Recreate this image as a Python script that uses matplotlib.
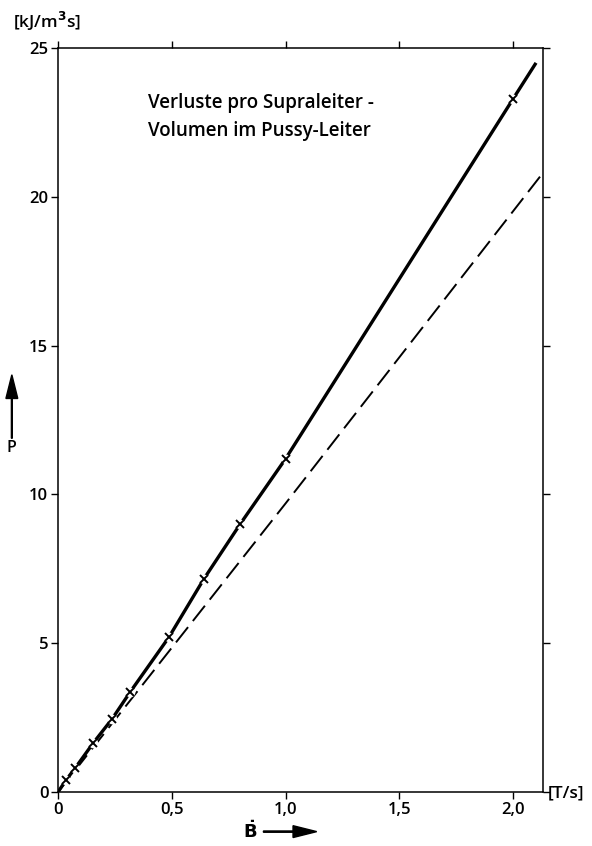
import matplotlib
matplotlib.use("Agg")
import matplotlib.pyplot as plt

# measured points (B-dot in T/s, P in kJ/m^3 s)
b_meas = [0.035, 0.075, 0.155, 0.237, 0.316, 0.487, 0.64, 0.80, 1.0, 2.0]
p_meas = [0.4, 0.8, 1.65, 2.45, 3.35, 5.2, 7.15, 9.0, 11.2, 23.3]

# solid curve through the measurements
b_solid = [0.0] + b_meas + [2.10]
p_solid = [0.0] + p_meas + [24.5]

# dashed straight line
b_dash = [0.0, 1.0, 2.13]
p_dash = [0.0, 9.7, 20.8]

x_ticks = [0, 0.5, 1.0, 1.5, 2.0]
x_labels = ["0", "0,5", "1,0", "1,5", "2,0"]
y_ticks = [0, 5, 10, 15, 20, 25]

plt.rcParams['font.family'] = ['Open Sans', 'DejaVu Sans']
plt.rcParams['font.weight'] = 'semibold'

fig = plt.figure(figsize=(5.92, 8.46), dpi=100)
ax = fig.add_axes([0.098, 0.0638, 0.819, 0.8795])

ax.plot(b_dash, p_dash, color='black', lw=1.4, dashes=(10, 4), zorder=2)
ax.plot(b_solid, p_solid, color='black', lw=2.4, solid_capstyle='butt', zorder=3)
ax.plot(b_meas, p_meas, linestyle='none', marker='o', ms=7, mfc='white', mec='none', zorder=4)
ax.plot(b_meas, p_meas, linestyle='none', marker='x', ms=5.5, mew=1.4, color='black', zorder=5)

ax.set_xlim(0, 2.13)
ax.set_ylim(0, 25)
ax.set_xticks(x_ticks)
ax.set_xticklabels(x_labels)
ax.set_yticks(y_ticks)
ax.tick_params(direction='out', length=5, width=1, labelsize=12, pad=2,
               top=True, right=True)
for s in ax.spines.values():
    s.set_linewidth(1.1)

ax.text(0.186, 0.94, "Verluste pro Supraleiter -\nVolumen im Pussy-Leiter",
        transform=ax.transAxes, fontsize=13.5, linespacing=1.55, va='top')

fig.text(0.022, 0.975, "[kJ/m$^3$s]", fontsize=12.5, va='center')
fig.text(0.925, 0.062, "[T/s]", fontsize=12.5, va='center')

# P with upward arrow
fig.text(0.020, 0.47, "P", fontsize=11.5, ha='center', va='center')
fig.patches.append(matplotlib.patches.FancyArrow(
    0.020, 0.482, 0, 0.075, width=0.0015, head_width=0.02, head_length=0.028,
    length_includes_head=True, transform=fig.transFigure, color='black'))

# B-dot with right arrow
fig.text(0.422, 0.017, r"$\dot{\mathrm{B}}$", fontsize=13, ha='center', va='center')
fig.patches.append(matplotlib.patches.FancyArrow(
    0.445, 0.017, 0.090, 0, width=0.0015, head_width=0.014, head_length=0.04,
    length_includes_head=True, transform=fig.transFigure, color='black'))

fig.savefig("out.png", dpi=100)
